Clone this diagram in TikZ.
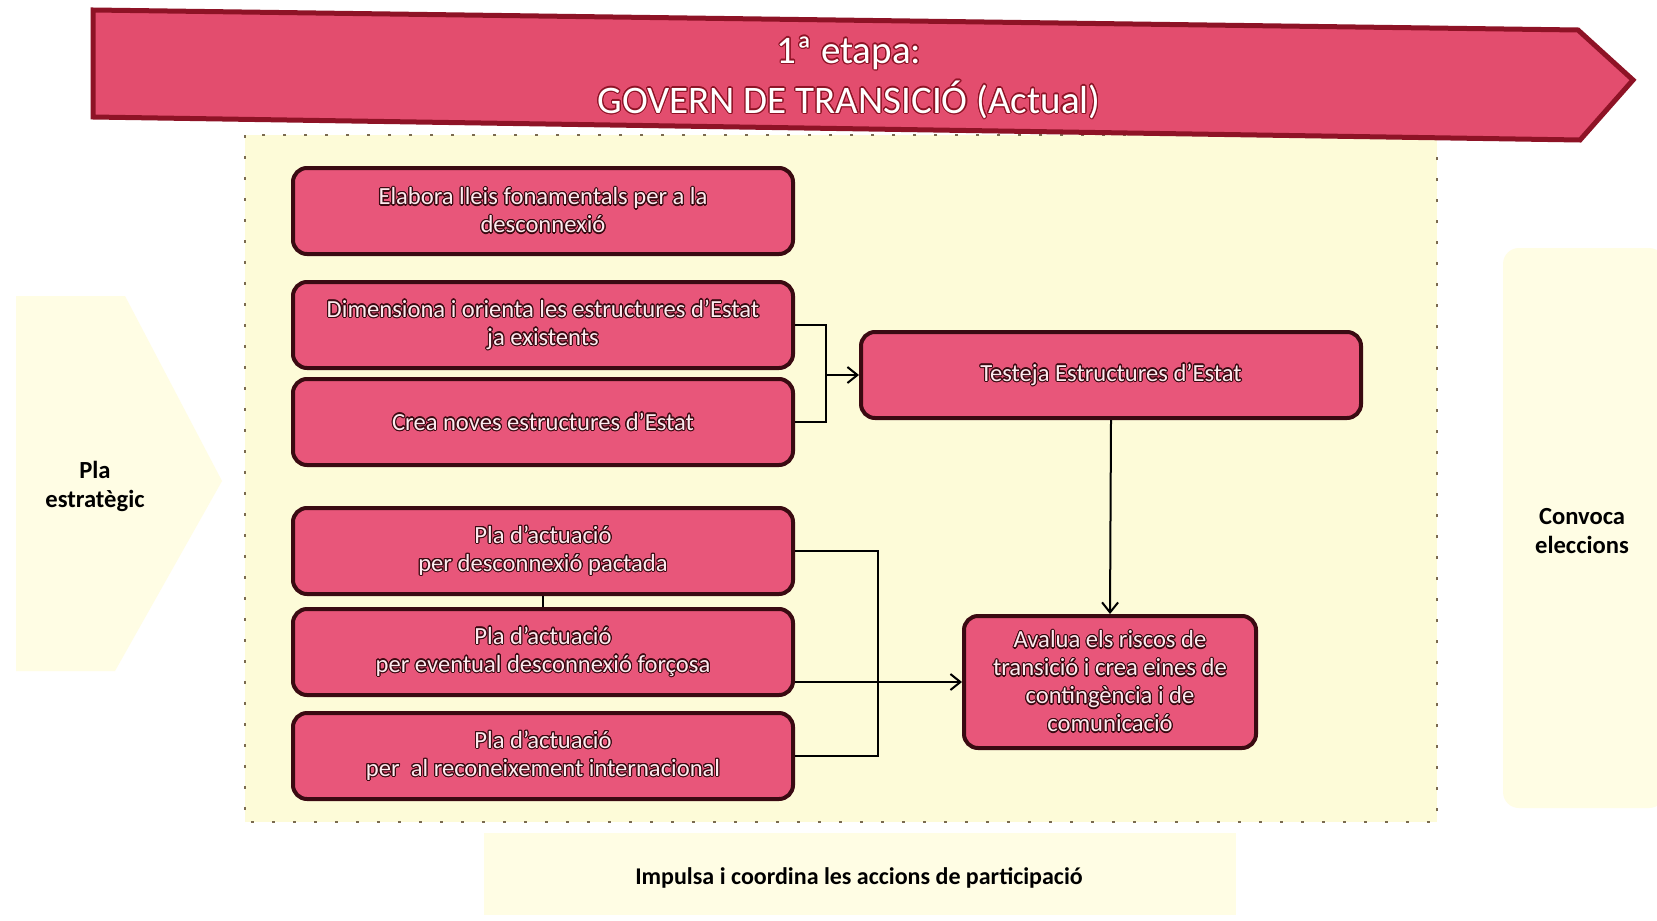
\documentclass[tikz,border=0pt]{standalone}
\usepackage{fontspec}
\setmainfont{Carlito}
\usepackage{contour}
\usetikzlibrary{arrows.meta}
\definecolor{boxfill}{HTML}{E8567A}
\definecolor{boxedge}{HTML}{3A0A12}
\definecolor{banfill}{HTML}{E34D6E}
\definecolor{banedge}{HTML}{8E1326}
\definecolor{panel}{HTML}{FDFBD8}
\definecolor{side}{HTML}{FFFDE4}
\definecolor{boxtext}{HTML}{FDEBEF}
\definecolor{dots}{HTML}{7A6A50}
\contourlength{0.55pt}
\contournumber{16}
\newcommand{\ct}[1]{\contour{boxedge}{#1}}
\newcommand{\cb}[1]{\contour{banedge}{#1}}
\tikzset{
  stepbox/.style={draw=boxedge, line width=2pt, fill=boxfill, rounded corners=7pt,
    minimum width=250pt, minimum height=43pt, text=boxtext,
    font=\fontsize{12.3}{14}\selectfont, align=center, inner sep=2pt},
  conn/.style={line width=1pt, draw=black},
  arr/.style={conn, -{Straight Barb[length=5pt,width=8pt]}},
  sidetext/.style={font=\bfseries\fontsize{12.3}{14.5}\selectfont, align=center, text=black},
}
\begin{document}
\begin{tikzpicture}[x=0.5pt,y=-0.5pt]
\useasboundingbox[fill=white] (0,0) rectangle (1657,920);

% side shapes
\fill[side] (16,296) -- (125,296) -- (222,481) -- (115,671) -- (16,671) -- cycle;
\node[sidetext] (pla) at (95,486) {Pla\\estratègic};
\fill[side, rounded corners=8pt] (1503,248) rectangle (1665,808);
\node[sidetext] (conv) at (1582,531) {Convoca\\eleccions};

% bottom box
\fill[side] (484,833) rectangle (1236,915);
\node[sidetext, font=\bfseries\fontsize{12}{14}\selectfont] (imp) at (859,878) {Impulsa i coordina les accions de participació};

% panel
\fill[panel] (245,135) rectangle (1437,822);
\draw[dots, line width=0.8pt, dash pattern=on 1.5pt off 9pt] (245,135) rectangle (1437,822);

% banner
\draw[banedge, line width=2.5pt, fill=banfill] (93,10) -- (1578,30) -- (1633,80) -- (1580,140) -- (93,117) -- cycle;
\node[text=white, font=\fontsize{19.5}{25}\selectfont, align=center] (ban) at (849,78)
  {\cb{1ª etapa:}\\\cb{GOVERN DE TRANSICIÓ (Actual)}};

% boxes
\node[stepbox] (b1) at (543,211) {\ct{Elabora lleis fonamentals per a la}\\\ct{desconnexió}};
\node[stepbox] (b2) at (543,325) {\ct{Dimensiona i orienta les estructures d'Estat}\\\ct{ja existents}};
\node[stepbox] (b3) at (543,422) {\ct{Crea noves estructures d'Estat}};
\node[stepbox] (b4) at (543,551) {\ct{Pla d'actuació}\\\ct{per desconnexió pactada}};
\node[stepbox] (b5) at (543,652) {\ct{Pla d'actuació}\\\ct{per eventual desconnexió forçosa}};
\node[stepbox] (b6) at (543,756) {\ct{Pla d'actuació}\\\ct{per\ \ al reconeixement internacional}};
\node[stepbox] (t) at (1111,375) {\ct{Testeja Estructures d'Estat}};
\node[stepbox, minimum width=146pt, minimum height=66pt] (a) at (1110,682)
  {\ct{Avalua els riscos de}\\\ct{transició i crea eines de}\\\ct{contingència i de}\\\ct{comunicació}};

% connectors
\coordinate (j1) at (826,375);
\coordinate (j2) at (878,682);
\draw[conn] (b2.east) -- (b2.east -| j1) -- (b3.east -| j1) -- (b3.east);
\draw[arr] (j1) -- (t.west);
\draw[arr] (t.south) -- (a.north);
\draw[conn] (b4.east) -- (b4.east -| j2) -- (b6.east -| j2) -- (b6.east);
\draw[arr] (b5.east |- a.west) -- (a.west);
\draw[conn] (b4.south) -- (b5.north);
\end{tikzpicture}
\end{document}
